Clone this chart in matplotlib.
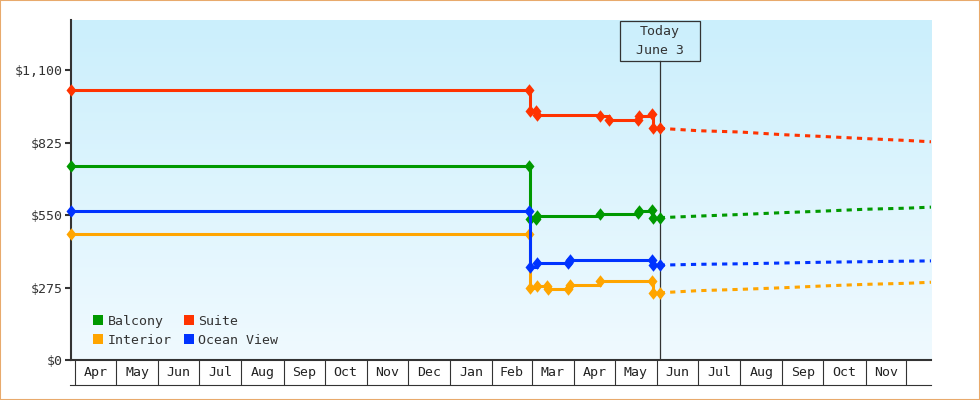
import numpy as np
import pandas as pd
import matplotlib
matplotlib.use("Agg")
import matplotlib.pyplot as plt
import matplotlib.dates as mdates
from matplotlib.colors import LinearSegmentedColormap
from matplotlib.lines import Line2D
from matplotlib.patches import Rectangle

plt.rcParams["font.family"] = ["DejaVu Sans Mono"]

# --- price history ---
balcony_dates = ["2023-03-29", "2024-02-28", "2024-02-29", "2024-03-04", "2024-03-05",
                 "2024-04-20", "2024-05-18", "2024-05-19", "2024-05-28", "2024-05-29", "2024-06-03"]
balcony_prices = [736, 736, 534, 534, 548, 555, 558, 566, 569, 540, 540]

suite_dates = ["2023-03-29", "2024-02-28", "2024-02-29", "2024-03-04", "2024-03-05", "2024-04-20",
               "2024-04-27", "2024-05-18", "2024-05-19", "2024-05-28", "2024-05-29", "2024-06-03"]
suite_prices = [1024, 1024, 944, 944, 930, 927, 910, 910, 925, 932, 879, 879]

interior_dates = ["2023-03-29", "2024-02-28", "2024-02-29", "2024-03-05", "2024-03-12", "2024-03-13",
                  "2024-03-28", "2024-03-29", "2024-04-20", "2024-05-28", "2024-05-29", "2024-06-03"]
interior_prices = [477, 477, 272, 281, 281, 268, 268, 284, 299, 301, 255, 255]

ocean_dates = ["2023-03-29", "2024-02-28", "2024-02-29", "2024-03-05", "2024-03-28",
               "2024-03-29", "2024-05-28", "2024-05-29", "2024-06-03"]
ocean_prices = [566, 566, 354, 368, 368, 381, 381, 360, 360]

# --- forecast (dashed) ---
forecast_dates = ["2024-06-03", "2024-07-01", "2024-08-01", "2024-09-01",
                  "2024-10-01", "2024-11-01", "2024-12-01", "2024-12-19"]
balcony_forecast = [540, 546, 552, 559, 565, 572, 576, 580]
suite_forecast = [879, 870, 865, 855, 848, 840, 833, 828]
interior_forecast = [255, 263, 268, 274, 281, 287, 291, 295]
ocean_forecast = [360, 363, 365, 368, 371, 373, 375, 376]

month_labels = ["Apr", "May", "Jun", "Jul", "Aug", "Sep", "Oct", "Nov", "Dec", "Jan",
                "Feb", "Mar", "Apr", "May", "Jun", "Jul", "Aug", "Sep", "Oct", "Nov"]
y_ticks = [0, 275, 550, 825, 1100]
y_tick_labels = ["$0", "$275", "$550", "$825", "$1,100"]

today = pd.Timestamp("2024-06-03")
x_start = pd.Timestamp("2023-03-29")
x_end = pd.Timestamp("2024-12-19")

INK = "#333333"
series = [
    ("Balcony", "#009900", balcony_dates, balcony_prices, balcony_forecast),
    ("Interior", "#ffa500", interior_dates, interior_prices, interior_forecast),
    ("Ocean View", "#0033ff", ocean_dates, ocean_prices, ocean_forecast),
    ("Suite", "#ff3300", suite_dates, suite_prices, suite_forecast),
]
DIAMOND = [(0, 1), (0.8, 0), (0, -1), (-0.8, 0), (0, 1)]

fig = plt.figure(figsize=(9.8, 4.0), dpi=100)
W, H = 980, 400
pos = [71 / W, 40 / H, 860 / W, 340 / H]

# gradient background behind the plot
bg = fig.add_axes(pos, zorder=0)
grad = np.linspace(0, 1, 256).reshape(-1, 1)
cmap = LinearSegmentedColormap.from_list("bg", ["#cbeffc", "#f0faff"])
bg.imshow(grad, aspect="auto", cmap=cmap, extent=[0, 1, 0, 1], origin="upper")
bg.axis("off")

ax = fig.add_axes(pos, zorder=1)
ax.patch.set_alpha(0)

for name, color, dates, prices, fc in series:
    ax.plot(pd.to_datetime(dates), prices, drawstyle="steps-post", color=color, lw=2.2,
            marker=DIAMOND, ms=9, mew=0, clip_on=False, zorder=4)
    ax.plot(pd.to_datetime(forecast_dates), fc, color=color, lw=2.2,
            ls=(0, (1.7, 1.7)), zorder=3)

xmin, xmax = mdates.date2num(x_start), mdates.date2num(x_end)
ax.set_xlim(xmin, xmax)
ax.set_ylim(0, 1290)

ax.set_yticks(y_ticks)
ax.set_yticklabels(y_tick_labels)
ax.tick_params(axis="y", length=4.5, width=1.5, color=INK, pad=1.5,
               labelsize=9.5, labelcolor=INK)

# month boxes below the axis
month_starts = pd.date_range("2023-04-01", "2024-12-01", freq="MS")
starts_num = mdates.date2num(month_starts)
mids = (starts_num[:-1] + starts_num[1:]) / 2
ax.set_xticks(starts_num)
ax.set_xticklabels([])
ax.set_xticks(mids, minor=True)
ax.set_xticklabels(month_labels, minor=True)
ax.tick_params(axis="x", which="major", length=18, width=0.8, color=INK, direction="out")
ax.tick_params(axis="x", which="minor", length=0, pad=4, labelsize=9.5, labelcolor="#222222")
ax.plot([-1 / 860, 1], [-25 / 340, -25 / 340], transform=ax.transAxes,
        color=INK, lw=0.8, clip_on=False)

for s in ["top", "right"]:
    ax.spines[s].set_visible(False)
for s in ["left", "bottom"]:
    ax.spines[s].set_color(INK)
    ax.spines[s].set_linewidth(1.5)

# today marker
box_bottom = (360 - 60.7) / 340
ax.axvline(mdates.date2num(today), ymin=0, ymax=box_bottom, color=INK, lw=0.9, zorder=3.5)
tx = (mdates.date2num(today) - xmin) / (xmax - xmin)
ax.add_patch(Rectangle((tx - 40 / 860, box_bottom), 80 / 860, 40 / 340, transform=ax.transAxes,
                       fill=False, ec=INK, lw=0.9, clip_on=False))
ax.text(tx, (360 - 32) / 340, "Today", transform=ax.transAxes, ha="center", va="center",
        fontsize=9.5, color=INK)
ax.text(tx, (360 - 50) / 340, "June 3", transform=ax.transAxes, ha="center", va="center",
        fontsize=9.5, color=INK)

# legend
handles = [Line2D([], [], ls="", marker="s", ms=7.5, mew=0, color=c) for _, c, *_ in series]
labels = [n for n, *_ in series]
order = [0, 1, 3, 2]
leg = ax.legend([handles[i] for i in order], [labels[i] for i in order], ncol=2,
                loc="lower left", bbox_to_anchor=(22 / 860, 13 / 340), frameon=False,
                borderpad=0, borderaxespad=0, handlelength=0.8, handletextpad=0.3,
                columnspacing=0.9, labelspacing=0.45, prop={"size": 9.5})
for t in leg.get_texts():
    t.set_color(INK)

fig.add_artist(Rectangle((0, 0), 1, 1, transform=fig.transFigure, fill=False,
                         ec="#e8aa6c", lw=1.5))

fig.savefig("out.png", dpi=100)
